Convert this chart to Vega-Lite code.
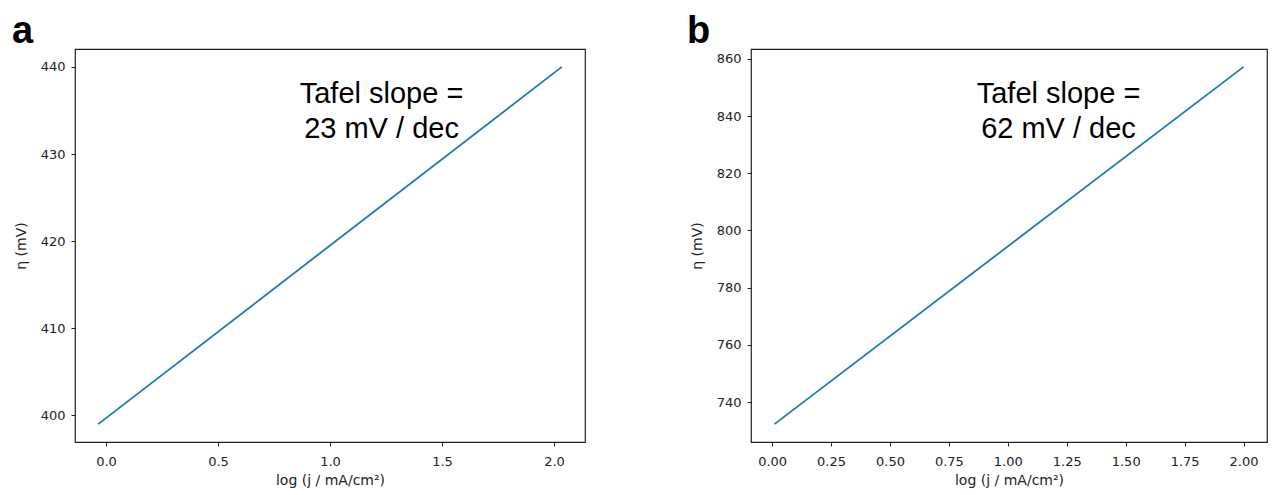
{
  "$schema": "https://vega.github.io/schema/vega-lite/v6.json",
  "background": "white",
  "padding": {"left": 11, "top": 12, "right": 5, "bottom": 2},
  "datasets": {
    "a": [{"logj": -0.035, "eta": 399.0}, {"logj": 2.035, "eta": 440.0}],
    "b": [{"logj": 0.01, "eta": 732.3}, {"logj": 2.0, "eta": 857.2}],
    "annot": [{"id": 1}]
  },
  "spacing": 100,
  "hconcat": [
    {
      "width": 510,
      "height": 393,
      "title": {"text": "a", "anchor": "start", "frame": "group", "dx": -63, "fontSize": 38, "fontWeight": "bold", "font": "Liberation Sans", "offset": -2, "color": "black"},
      "layer": [
        {
          "data": {"name": "a"},
          "mark": {"type": "line", "color": "#1f77b4", "strokeWidth": 1.8},
          "encoding": {
            "x": {"field": "logj", "type": "quantitative", "scale": {"domain": [-0.1385, 2.1385], "nice": false, "zero": false},
                  "axis": {"values": [0, 0.5, 1, 1.5, 2], "format": ".1f", "title": "log (j / mA/cm²)"}},
            "y": {"field": "eta", "type": "quantitative", "scale": {"domain": [396.95, 442.05], "nice": false, "zero": false},
                  "axis": {"values": [400, 410, 420, 430, 440], "title": "η (mV)"}}
          }
        },
        {
          "data": {"name": "annot"},
          "mark": {"type": "text", "fontSize": 29, "font": "Liberation Sans", "color": "black", "align": "center", "baseline": "middle", "lineHeight": 35},
          "encoding": {
            "x": {"datum": 1.23, "type": "quantitative"},
            "y": {"datum": 436.9, "type": "quantitative"},
            "text": {"value": ["Tafel slope =", "23 mV / dec"]}
          }
        }
      ]
    },
    {
      "width": 516,
      "height": 393,
      "title": {"text": "b", "anchor": "start", "frame": "group", "dx": -64, "fontSize": 38, "fontWeight": "bold", "font": "Liberation Sans", "offset": -2, "color": "black"},
      "layer": [
        {
          "data": {"name": "b"},
          "mark": {"type": "line", "color": "#1f77b4", "strokeWidth": 1.8},
          "encoding": {
            "x": {"field": "logj", "type": "quantitative", "scale": {"domain": [-0.0895, 2.0995], "nice": false, "zero": false},
                  "axis": {"values": [0, 0.25, 0.5, 0.75, 1, 1.25, 1.5, 1.75, 2], "format": ".2f", "title": "log (j / mA/cm²)"}},
            "y": {"field": "eta", "type": "quantitative", "scale": {"domain": [726.05, 863.45], "nice": false, "zero": false},
                  "axis": {"values": [740, 760, 780, 800, 820, 840, 860], "title": "η (mV)"}}
          }
        },
        {
          "data": {"name": "annot"},
          "mark": {"type": "text", "fontSize": 29, "font": "Liberation Sans", "color": "black", "align": "center", "baseline": "middle", "lineHeight": 35},
          "encoding": {
            "x": {"datum": 1.215, "type": "quantitative"},
            "y": {"datum": 847.7, "type": "quantitative"},
            "text": {"value": ["Tafel slope =", "62 mV / dec"]}
          }
        }
      ]
    }
  ],
  "config": {
    "view": {"stroke": "#222", "strokeWidth": 1.2},
    "axis": {
      "grid": false,
      "domain": false,
      "ticks": true,
      "tickColor": "#222",
      "tickSize": 4,
      "labelFont": "DejaVu Sans",
      "labelFontSize": 13,
      "labelColor": "#222",
      "labelPadding": 6,
      "titleFont": "DejaVu Sans",
      "titleFontSize": 14,
      "titleFontWeight": "normal",
      "titleColor": "#222"
    },
    "axisX": {"titlePadding": 5, "labelPadding": 9},
    "axisY": {"titlePadding": 12}
  }
}
